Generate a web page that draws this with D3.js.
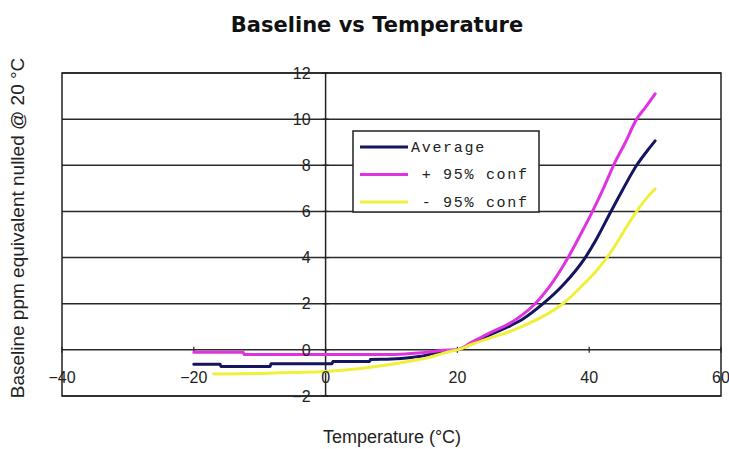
<!DOCTYPE html>
<html><head><meta charset="utf-8">
<script src="https://cdn.jsdelivr.net/npm/d3@7"></script>
<style>body{margin:0;background:#fff}svg{display:block}</style>
</head><body>
<svg id="c" width="729" height="449"></svg>
<script>
const xTicks = [-40, -20, 0, 20, 40, 60];
const yTicks = [-2, 0, 2, 4, 6, 8, 10, 12];
const seriesNames = ["Average", " + 95% conf", " - 95% conf"];
const seriesColors = ["#141460", "#e033e0", "#f0f03c"];

// [temperature, value]
const average = [[-20,-0.62],[-16,-0.62],[-15.9,-0.72],[-8.4,-0.72],[-8.3,-0.6],[1,-0.6],[1.1,-0.5],[6.7,-0.5],[6.8,-0.42],[10,-0.4],[13,-0.33],[15,-0.25],[17,-0.12],[19,-0.03],[20,0],[22,0.25],[25,0.66],[28,1.04],[30,1.35],[33,2.0],[36,2.8],[39.4,4.0],[41,4.75],[43.3,6.0],[45,6.9],[47.2,8.0],[49,8.7],[50,9.06]];
const plus95 = [[-20,-0.1],[-12.5,-0.1],[-12.4,-0.2],[10,-0.2],[12,-0.18],[14,-0.14],[16,-0.08],[18,-0.02],[20,0],[22,0.3],[25,0.75],[28,1.16],[30,1.55],[31.8,2.0],[34,2.75],[36.8,4.0],[38.5,4.9],[40.5,6.0],[42,6.9],[43.7,8.0],[45.5,9.0],[47.2,10.0],[48.5,10.5],[50,11.1]];
const minus95 = [[-17,-1.05],[-10,-1.02],[-5,-0.98],[0,-0.94],[5,-0.82],[10,-0.62],[13,-0.48],[15,-0.38],[17,-0.22],[19,-0.06],[20,0],[22,0.22],[25,0.52],[28,0.8],[30,1.04],[33,1.45],[36,2.0],[39,2.8],[41,3.4],[42.7,4.0],[44,4.55],[45.5,5.25],[47.2,6.0],[48.5,6.5],[50,6.98]];
const allSeries = [average, plus95, minus95];

const svg = d3.select("#c");
const x = d3.scaleLinear().domain([-40, 60]).range([62, 721]);
const y = d3.scaleLinear().domain([-2, 12]).range([396, 73]);

// gridlines
svg.append("g").selectAll("line").data(yTicks).join("line")
  .attr("x1", x(-40)).attr("x2", x(60))
  .attr("y1", d => y(d)).attr("y2", d => y(d))
  .attr("stroke", "#2a2a2a").attr("stroke-width", 1.5);

// plot border
svg.append("rect").attr("x", x(-40)).attr("y", y(12))
  .attr("width", x(60) - x(-40)).attr("height", y(-2) - y(12))
  .attr("fill", "none").attr("stroke", "#222").attr("stroke-width", 1.5);

// vertical axis at x=0
svg.append("line").attr("x1", x(0)).attr("x2", x(0)).attr("y1", y(12)).attr("y2", y(-2))
  .attr("stroke", "#222").attr("stroke-width", 1.5);

// tick marks (cross)
svg.append("g").selectAll("line").data(xTicks).join("line")
  .attr("x1", d => x(d)).attr("x2", d => x(d))
  .attr("y1", y(0) - 3).attr("y2", y(0) + 3)
  .attr("stroke", "#222").attr("stroke-width", 1.2);
svg.append("g").selectAll("line").data(yTicks).join("line")
  .attr("x1", x(0) - 3).attr("x2", x(0) + 3)
  .attr("y1", d => y(d)).attr("y2", d => y(d))
  .attr("stroke", "#222").attr("stroke-width", 1.2);

// series
const line = d3.line().x(d => x(d[0])).y(d => y(d[1])).curve(d3.curveMonotoneX);
allSeries.forEach((s, i) => {
  svg.append("path").datum(s).attr("d", line)
    .attr("fill", "none").attr("stroke", seriesColors[i])
    .attr("stroke-width", 3).attr("stroke-linejoin", "round").attr("stroke-linecap", "round");
});

// tick labels
const fmt = d => (d < 0 ? "\u2212" + Math.abs(d) : String(d));
svg.append("g").selectAll("text").data(yTicks).join("text")
  .attr("x", x(0) - 15).attr("y", d => y(d)).attr("dy", "0.36em")
  .attr("text-anchor", "end")
  .attr("font-family", "Liberation Sans, Arial, sans-serif").attr("font-size", 16)
  .attr("fill", "#222").text(fmt);
svg.append("g").selectAll("text").data(xTicks).join("text")
  .attr("x", d => x(d)).attr("y", y(0) + 33)
  .attr("text-anchor", "middle")
  .attr("font-family", "Liberation Sans, Arial, sans-serif").attr("font-size", 16)
  .attr("fill", "#222").text(fmt);

// legend
const lg = svg.append("g");
lg.append("rect").attr("x", 353).attr("y", 131).attr("width", 186).attr("height", 81)
  .attr("fill", "#fff").attr("stroke", "#222").attr("stroke-width", 1.5);
seriesNames.forEach((n, i) => {
  const ly = 147 + i * 27.5;
  lg.append("line").attr("x1", 360).attr("x2", 408).attr("y1", ly).attr("y2", ly)
    .attr("stroke", seriesColors[i]).attr("stroke-width", 3);
  lg.append("text").attr("x", 411).attr("y", ly).attr("dy", "0.32em")
    .attr("font-family", "Liberation Mono, Courier New, monospace").attr("font-size", 15)
    .attr("letter-spacing", 1.7).attr("fill", "#222")
    .style("white-space", "pre").text(n);
});

// title & axis titles
svg.append("text").attr("x", 377).attr("y", 32).attr("text-anchor", "middle")
  .attr("font-family", "DejaVu Sans, sans-serif").attr("font-weight", "bold").attr("font-size", 21)
  .attr("fill", "#111").text("Baseline vs Temperature");
svg.append("text").attr("x", 392).attr("y", 443).attr("text-anchor", "middle")
  .attr("font-family", "Liberation Sans, Arial, sans-serif").attr("font-size", 18)
  .attr("fill", "#222").text("Temperature (\u00B0C)");
svg.append("text").attr("transform", "translate(24,228) rotate(-90)").attr("text-anchor", "middle")
  .attr("font-family", "Liberation Sans, Arial, sans-serif").attr("font-size", 19)
  .attr("fill", "#222").text("Baseline ppm equivalent nulled @ 20 \u00B0C");
</script>
</body></html>
